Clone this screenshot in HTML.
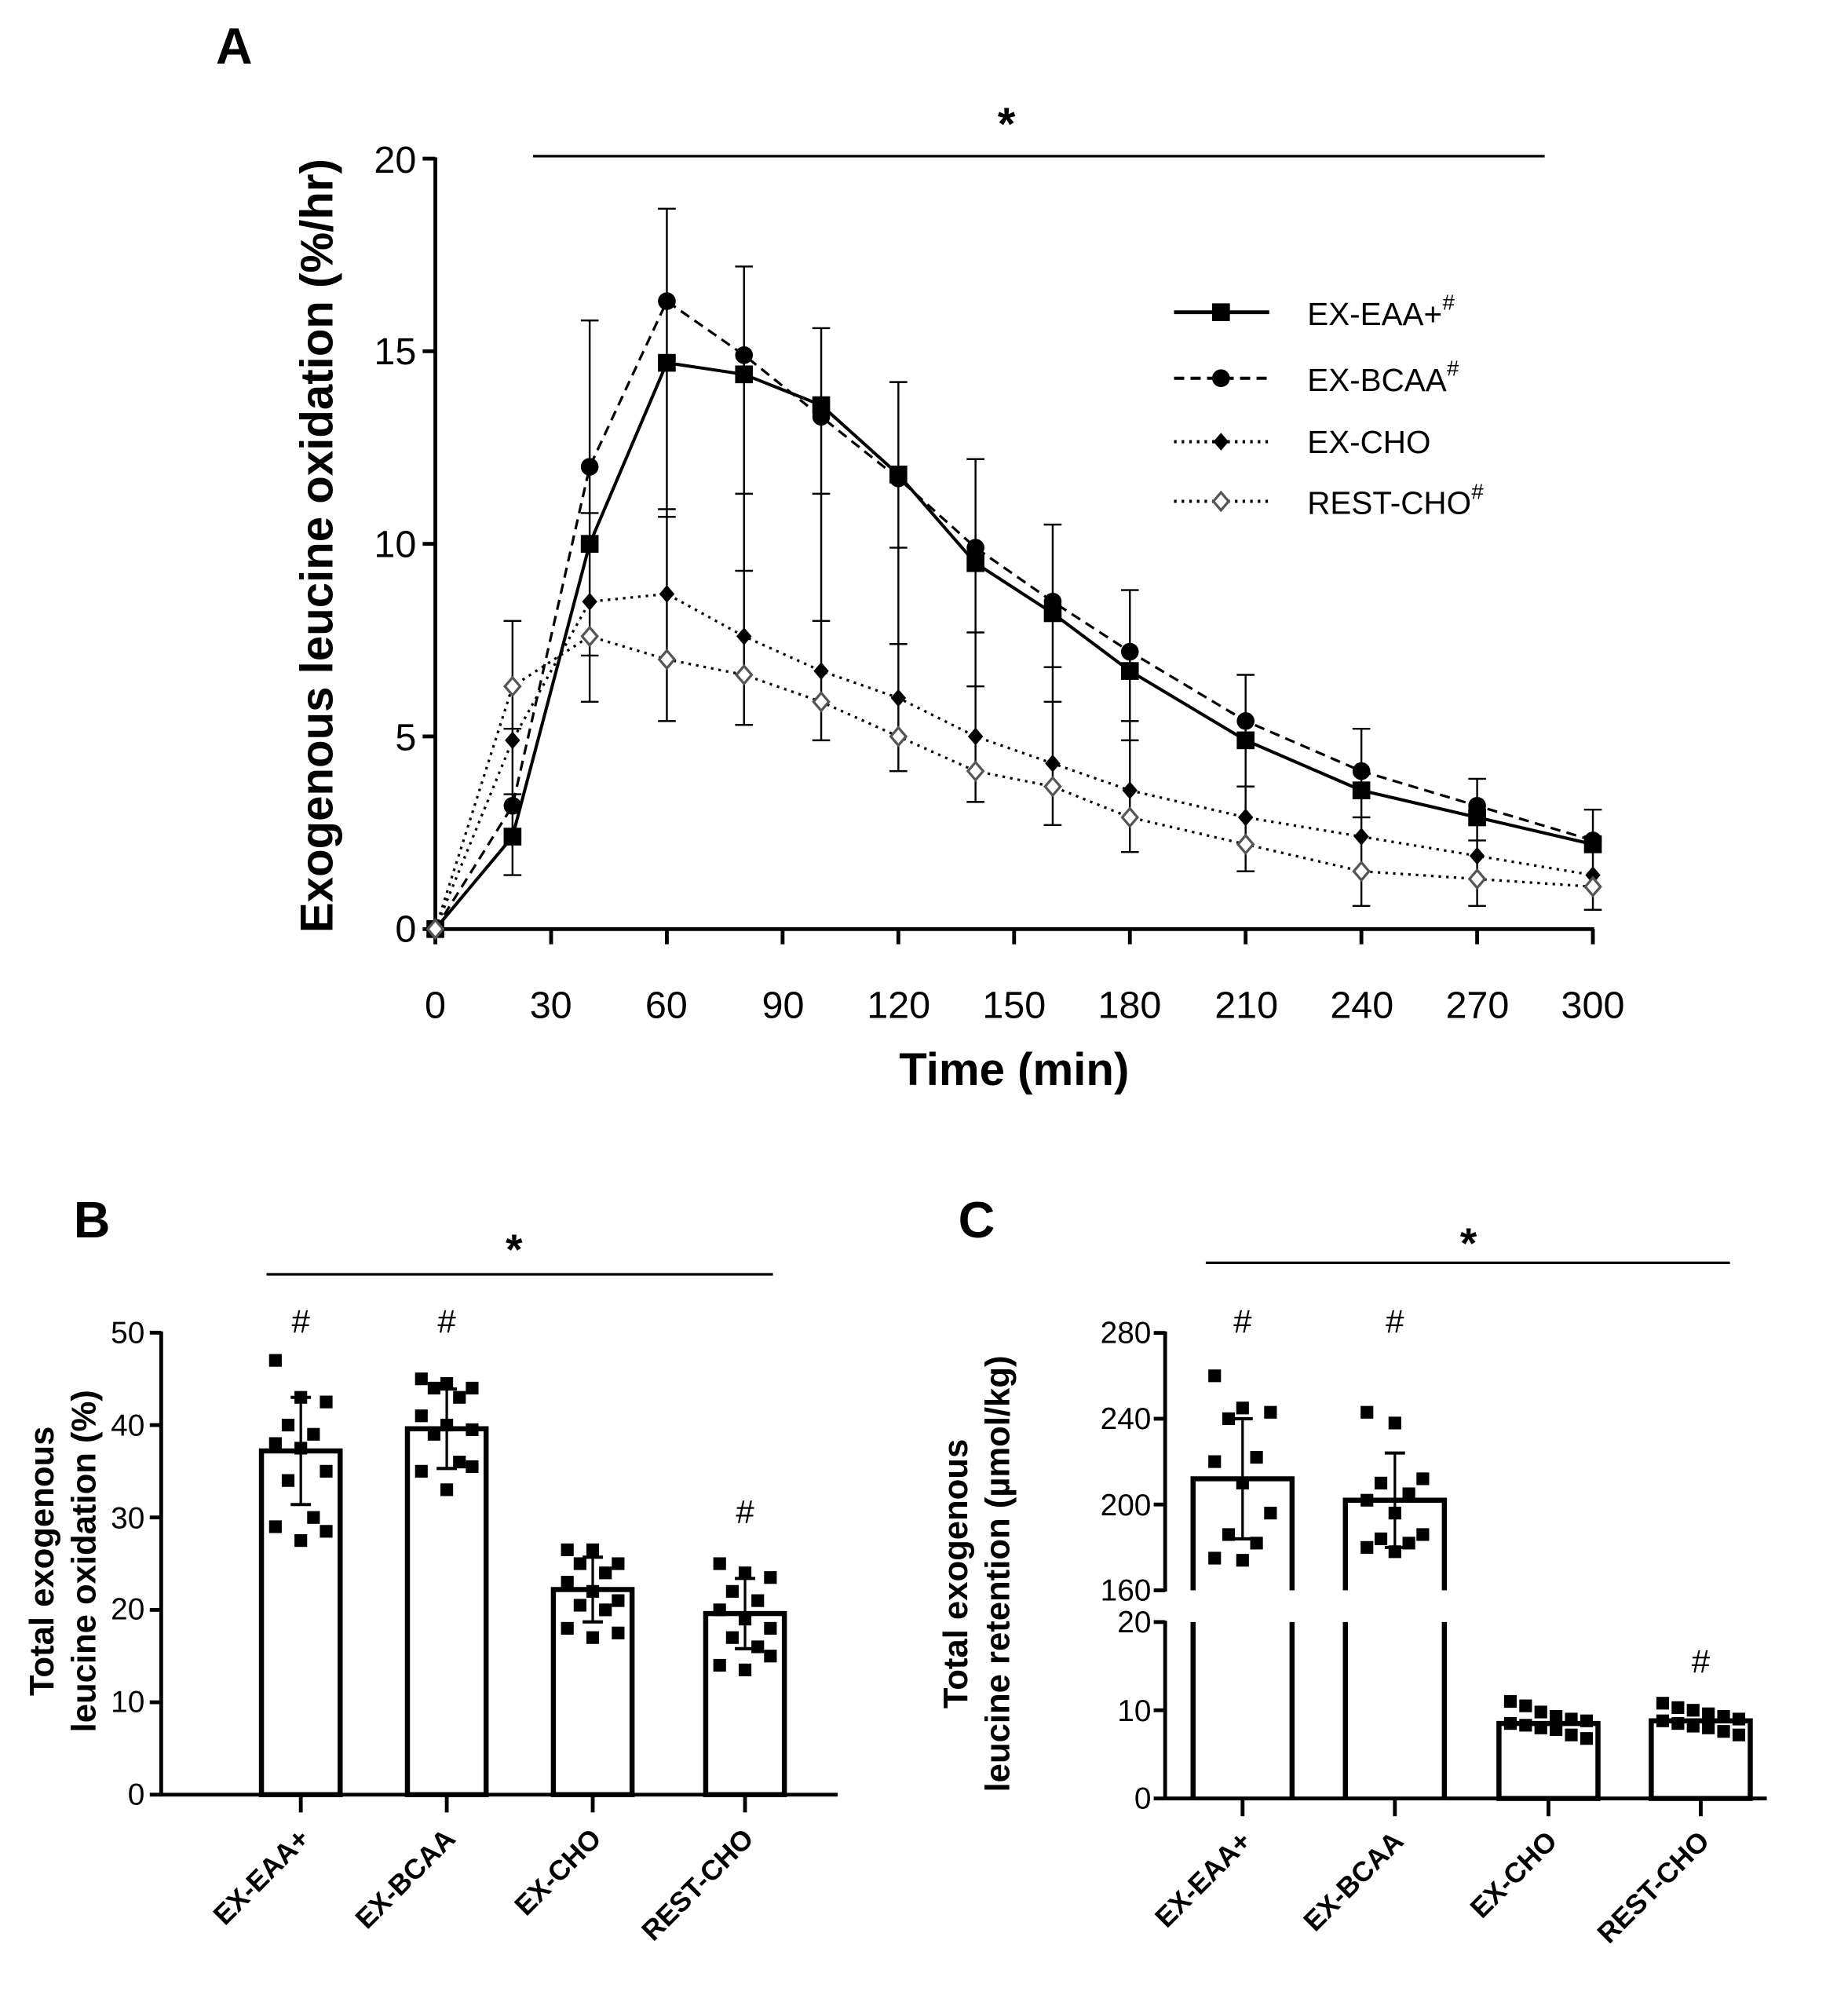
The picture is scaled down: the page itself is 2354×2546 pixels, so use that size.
<!DOCTYPE html>
<html><head><meta charset="utf-8">
<style>
html,body{margin:0;padding:0;background:#fff}
svg{display:block}
text{font-family:"Liberation Sans",Arial,sans-serif;fill:#000}
</style></head>
<body>
<svg id="s" width="2354" height="2546" viewBox="0 0 1456 1575" preserveAspectRatio="none" xmlns="http://www.w3.org/2000/svg">
<text x="170" y="50" font-size="40" font-weight="bold">A</text>
<line x1="420" y1="123" x2="1217" y2="123" stroke="#000" stroke-width="2"/>
<text x="793" y="110" font-size="36" font-weight="bold" text-anchor="middle">*</text>
<g font-size="30" text-anchor="end">
<text x="328" y="742">0</text><text x="328" y="591">5</text><text x="328" y="439">10</text><text x="328" y="287">15</text><text x="328" y="136">20</text>
</g>
<g font-size="30" text-anchor="middle">
<text x="343" y="802">0</text><text x="434" y="802">30</text><text x="525" y="802">60</text><text x="617" y="802">90</text><text x="708" y="802">120</text><text x="799" y="802">150</text><text x="890" y="802">180</text><text x="982" y="802">210</text><text x="1073" y="802">240</text><text x="1164" y="802">270</text><text x="1255" y="802">300</text>
</g>
<text x="799" y="855" font-size="36" font-weight="bold" text-anchor="middle">Time (min)</text>
<text transform="translate(262,430) rotate(-90)" font-size="36" font-weight="bold" text-anchor="middle">Exogenous leucine oxidation (%/hr)</text>
<g font-size="25">
<text x="1030" y="256">EX-EAA+<tspan font-size="17" dy="-12" font-style="italic">#</tspan></text>
<text x="1030" y="308">EX-BCAA<tspan font-size="17" dy="-12" font-style="italic">#</tspan></text>
<text x="1030" y="357">EX-CHO</text>
<text x="1030" y="405">REST-CHO<tspan font-size="17" dy="-12" font-style="italic">#</tspan></text>
</g>
<text x="58" y="975" font-size="40" font-weight="bold">B</text>
<line x1="210" y1="1004" x2="609" y2="1004" stroke="#000" stroke-width="2"/>
<text x="405" y="996" font-size="34" font-weight="bold" text-anchor="middle">*</text>
<g font-size="24" text-anchor="end">
<text x="114" y="1422">0</text><text x="114" y="1349">10</text><text x="114" y="1276">20</text><text x="114" y="1204">30</text><text x="114" y="1131">40</text><text x="114" y="1058">50</text>
</g>
<text transform="translate(42,1230) rotate(-90)" font-size="27" font-weight="bold" text-anchor="middle">Total exogenous</text>
<text transform="translate(75,1230) rotate(-90)" font-size="27" font-weight="bold" text-anchor="middle">leucine oxidation (%)</text>
<g font-size="26" text-anchor="middle"><text x="237" y="1050">#</text><text x="352" y="1050">#</text><text x="587" y="1200">#</text></g>
<g font-size="22" font-weight="bold" text-anchor="end">
<text transform="translate(245,1450) rotate(-45)">EX-EAA+</text>
<text transform="translate(360,1450) rotate(-45)">EX-BCAA</text>
<text transform="translate(475,1450) rotate(-45)">EX-CHO</text>
<text transform="translate(595,1450) rotate(-45)">REST-CHO</text>
</g>
<text x="755" y="975" font-size="40" font-weight="bold">C</text>
<line x1="950" y1="995" x2="1363" y2="995" stroke="#000" stroke-width="2"/>
<text x="1157" y="991" font-size="34" font-weight="bold" text-anchor="middle">*</text>
<g font-size="24" text-anchor="end">
<text x="907" y="1058">280</text><text x="907" y="1126">240</text><text x="907" y="1194">200</text><text x="907" y="1261">160</text>
<text x="907" y="1286">20</text><text x="907" y="1356">10</text><text x="907" y="1425">0</text>
</g>
<text transform="translate(762,1240) rotate(-90)" font-size="27" font-weight="bold" text-anchor="middle">Total exogenous</text>
<text transform="translate(795,1240) rotate(-90)" font-size="27" font-weight="bold" text-anchor="middle">leucine retention (µmol/kg)</text>
<g font-size="26" text-anchor="middle"><text x="979" y="1050">#</text><text x="1099" y="1050">#</text><text x="1340" y="1318">#</text></g>
<g font-size="22" font-weight="bold" text-anchor="end">
<text transform="translate(987,1452) rotate(-45)">EX-EAA+</text>
<text transform="translate(1107,1452) rotate(-45)">EX-BCAA</text>
<text transform="translate(1228,1452) rotate(-45)">EX-CHO</text>
<text transform="translate(1348,1452) rotate(-45)">REST-CHO</text>
</g>
<g id="g"></g>
</svg>
<script>
var g=document.getElementById('g'),NS='http://www.w3.org/2000/svg';
function el(t,a){var e=document.createElementNS(NS,t);for(var k in a)e.setAttribute(k,a[k]);g.appendChild(e);return e;}
function L(x1,y1,x2,y2,w,d){var a={x1:x1,y1:y1,x2:x2,y2:y2,stroke:'#000','stroke-width':w||2};if(d)a['stroke-dasharray']=d;return el('line',a);}
var X=function(t){return 343+t*3.04},Y=function(v){return 732-v*30.35};
L(343,124,343,733,3);L(342,732,1256,732,3);
[0,5,10,15,20].forEach(function(v){L(333,Y(v),343,Y(v),3)});
for(var t=0;t<=300;t+=30)L(X(t),732,X(t),744,3);
var T=[0,20,40,60,80,100,120,140,160,180,210,240,270,300];
var eb=[[0,0,[]],[1.4,8.0,[3.5,5.2]],[5.9,15.8,[7.1,10.8]],[5.4,18.7,[10.7,10.9]],[5.3,17.2,[9.3,11.3]],[4.9,15.6,[8.0,11.3]],[4.1,14.2,[7.4,9.9]],[3.3,12.2,[6.3,7.7]],[2.7,10.5,[5.9,6.8]],[2.0,8.8,[4.9,5.4]],[1.5,6.6,[3.7]],[0.6,5.2,[2.9]],[0.6,3.9,[2.3]],[0.5,3.1,[]]];
eb.forEach(function(e,i){if(i==0)return;var x=X(T[i]);L(x,Y(e[0]),x,Y(e[1]),1.5);[e[0],e[1]].concat(e[2]).forEach(function(v){L(x-7,Y(v),x+7,Y(v),1.5)})});
var S=[
{d:[0,2.4,10,14.7,14.4,13.6,11.8,9.5,8.2,6.7,4.9,3.6,2.9,2.2],w:2.5,da:null,m:'sq'},
{d:[0,3.2,12,16.3,14.9,13.3,11.7,9.9,8.5,7.2,5.4,4.1,3.2,2.3],w:2,da:'8,5',m:'ci'},
{d:[0,4.9,8.5,8.7,7.6,6.7,6.0,5.0,4.3,3.6,2.9,2.4,1.9,1.4],w:2,da:'2,4',m:'di'},
{d:[0,6.3,7.6,7.0,6.6,5.9,5.0,4.1,3.7,2.9,2.2,1.5,1.3,1.1],w:2,da:'2,4',m:'od'}];
function mk(m,x,y){
 if(m=='sq')el('rect',{x:x-7,y:y-7,width:14,height:14,fill:'#000'});
 else if(m=='ci')el('circle',{cx:x,cy:y,r:7,fill:'#000'});
 else if(m=='di')el('path',{d:'M'+x+' '+(y-7)+'L'+(x+6)+' '+y+'L'+x+' '+(y+7)+'L'+(x-6)+' '+y+'Z',fill:'#000'});
 else el('path',{d:'M'+x+' '+(y-7)+'L'+(x+6)+' '+y+'L'+x+' '+(y+7)+'L'+(x-6)+' '+y+'Z',fill:'#fff',stroke:'#555','stroke-width':2});
}
S.forEach(function(s){var p=s.d.map(function(v,i){return X(T[i])+','+Y(v)}).join(' ');var a={points:p,fill:'none',stroke:'#000','stroke-width':s.w};if(s.da)a['stroke-dasharray']=s.da;el('polyline',a);});
S.forEach(function(s){s.d.forEach(function(v,i){mk(s.m,X(T[i]),Y(v))})});
var ly=[246,298,348,395];S.forEach(function(s,i){var a={x1:925,y1:ly[i],x2:1000,y2:ly[i],stroke:'#000','stroke-width':s.w+0.5};if(s.da)a['stroke-dasharray']=s.da;el('line',a);mk(s.m,962,ly[i]);});
var YB=function(v){return 1414-v*7.28};
L(127,1049,127,1415,3);L(126,1414,660,1414,3);
[0,10,20,30,40,50].forEach(function(v){L(118,YB(v),127,YB(v),3)});
var bx=[237,352,467,587],bv=[37.2,39.6,22.2,19.6],bsd=[5.8,4.3,3.5,3.8];
var bp=[[47,43,42.5,40,39,38,37.5,35,34,30,29,27.5,28.5],[45,44.5,44,44,43,41,40,39.5,39,36,35,33,35.5],[26.5,26.5,25,25,24,23,22,21,20.5,20,18,17,17.5],[25,24,23.5,22,21,20,19,18,17,16,14,13.5,15]];
bx.forEach(function(x,i){el('rect',{x:x-31,y:YB(bv[i]),width:62,height:1414-YB(bv[i]),fill:'#fff',stroke:'#000','stroke-width':4});L(x,1414,x,1428,3);});
bx.forEach(function(x,i){bp[i].forEach(function(v,j){var dx=((j*7)%5-2)*10;el('rect',{x:x+dx-5,y:YB(v)-5,width:10,height:10,fill:'#000'})});L(x,YB(bv[i]-bsd[i]),x,YB(bv[i]+bsd[i]),2);L(x-8,YB(bv[i]-bsd[i]),x+8,YB(bv[i]-bsd[i]),2.5);L(x-8,YB(bv[i]+bsd[i]),x+8,YB(bv[i]+bsd[i]),2.5);});
var YU=function(v){return 1253-(v-160)*1.69},YL=function(v){return 1417-v*6.95};
L(918,1049,918,1254,3);L(918,1277,918,1418,3);L(917,1417,1392,1417,3);
[280,240,200,160].forEach(function(v){L(909,YU(v),918,YU(v),3)});[20,10,0].forEach(function(v){L(909,YL(v),918,YL(v),3)});
var cx=[979,1099,1220,1340];
[[212,979],[202,1099]].forEach(function(b){var x=b[1],y=YU(b[0]);el('path',{d:'M'+(x-39)+' 1253 L'+(x-39)+' '+y+' L'+(x+39)+' '+y+' L'+(x+39)+' 1253',fill:'#fff',stroke:'#000','stroke-width':4});L(x-39,1278,x-39,1417,4);L(x+39,1278,x+39,1417,4);});
[[8.5,1220],[8.8,1340]].forEach(function(b){var x=b[1];el('rect',{x:x-39,y:YL(b[0]),width:78,height:1417-YL(b[0]),fill:'#fff',stroke:'#000','stroke-width':4});});
cx.forEach(function(x){L(x,1417,x,1431,3)});
var cu=[[260,245,243,240,222,220,210,196,186,182,175,174],[243,238,212,210,205,202,196,186,184,182,180,178]];
[[212,28],[202,22]].forEach(function(b,i){var x=cx[i];cu[i].forEach(function(v,j){var dx=((j*7)%5-2)*11;el('rect',{x:x+dx-5,y:YU(v)-5,width:10,height:10,fill:'#000'})});L(x,YU(b[0]-b[1]),x,YU(b[0]+b[1]),2);L(x-8,YU(b[0]+b[1]),x+8,YU(b[0]+b[1]),2.5);L(x-8,YU(b[0]-b[1]),x+8,YU(b[0]-b[1]),2.5);});
var cl=[[11,10.5,9.8,9.3,9,8.8,8.5,8.3,8,7.8,7.2,6.8],[10.8,10.3,10,9.6,9.3,9,8.8,8.5,8.2,8,7.6,7.2]];
[2,3].forEach(function(k,i){var x=cx[k];cl[i].forEach(function(v,j){var dx=((j*7)%6-2.5)*12;el('rect',{x:x+dx-5,y:YL(v)-5,width:10,height:10,fill:'#000'})});});
</script>
</body></html>
